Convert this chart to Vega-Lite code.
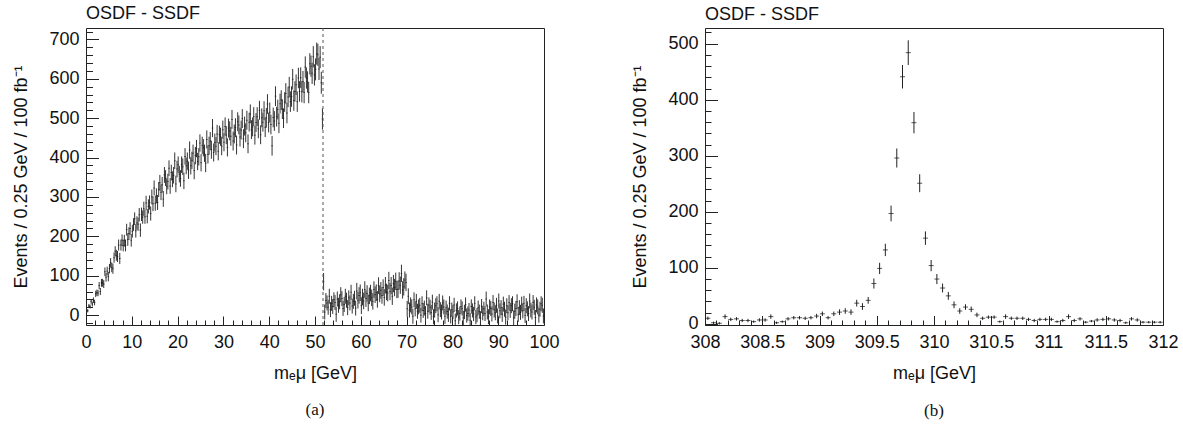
{
"$schema": "https://vega.github.io/schema/vega-lite/v6.json",
"background": "white",
"padding": {"left": 12, "top": 5, "right": 5, "bottom": 5},
"config": {
  "view": {"stroke": "#222", "strokeWidth": 1},
  "font": "Liberation Sans",
  "axis": {"labelFont": "Liberation Sans", "labelFontSize": 18, "labelColor": "#111", "titleFont": "Liberation Sans", "titleFontSize": 18, "titleFontWeight": "normal", "titleColor": "#111", "domain": false, "grid": false, "tickColor": "#222", "tickWidth": 1, "labelOverlap": false, "labelFlush": false, "labelBound": false, "tickCount": 1000},
  "title": {"font": "Liberation Sans", "fontSize": 18, "fontWeight": "normal", "color": "#111", "anchor": "start", "frame": "group", "offset": -1}
},
"datasets": {
"a": [
{"x":0.125,"y":13,"e":4},{"x":0.375,"y":11,"e":4},{"x":0.625,"y":23,"e":5},{"x":0.875,"y":22,"e":5},
{"x":1.125,"y":35,"e":6},{"x":1.375,"y":28,"e":6},{"x":1.625,"y":38,"e":7},{"x":1.875,"y":32,"e":7},
{"x":2.125,"y":54,"e":8},{"x":2.375,"y":57,"e":8},{"x":2.625,"y":56,"e":8},{"x":2.875,"y":75,"e":9},
{"x":3.125,"y":60,"e":9},{"x":3.375,"y":82,"e":10},{"x":3.625,"y":82,"e":10},{"x":3.875,"y":79,"e":10},
{"x":4.125,"y":110,"e":11},{"x":4.375,"y":96,"e":11},{"x":4.625,"y":112,"e":11},{"x":4.875,"y":98,"e":12},
{"x":5.125,"y":118,"e":12},{"x":5.375,"y":133,"e":12},{"x":5.625,"y":121,"e":12},{"x":5.875,"y":118,"e":13},
{"x":6.125,"y":146,"e":13},{"x":6.375,"y":162,"e":13},{"x":6.625,"y":152,"e":14},{"x":6.875,"y":149,"e":14},
{"x":7.125,"y":178,"e":14},{"x":7.375,"y":144,"e":14},{"x":7.625,"y":178,"e":14},{"x":7.875,"y":190,"e":15},
{"x":8.125,"y":177,"e":15},{"x":8.375,"y":189,"e":15},{"x":8.625,"y":177,"e":15},{"x":8.875,"y":217,"e":15},
{"x":9.125,"y":192,"e":16},{"x":9.375,"y":207,"e":16},{"x":9.625,"y":220,"e":16},{"x":9.875,"y":190,"e":16},
{"x":10.125,"y":213,"e":16},{"x":10.375,"y":230,"e":16},{"x":10.625,"y":245,"e":16},{"x":10.875,"y":214,"e":17},
{"x":11.125,"y":234,"e":17},{"x":11.375,"y":231,"e":17},{"x":11.625,"y":255,"e":17},{"x":11.875,"y":216,"e":17},
{"x":12.125,"y":256,"e":17},{"x":12.375,"y":249,"e":17},{"x":12.625,"y":270,"e":18},{"x":12.875,"y":250,"e":18},
{"x":13.125,"y":285,"e":18},{"x":13.375,"y":251,"e":18},{"x":13.625,"y":276,"e":18},{"x":13.875,"y":286,"e":18},
{"x":14.125,"y":258,"e":18},{"x":14.375,"y":300,"e":19},{"x":14.625,"y":283,"e":19},{"x":14.875,"y":323,"e":19},
{"x":15.125,"y":284,"e":19},{"x":15.375,"y":303,"e":19},{"x":15.625,"y":286,"e":19},{"x":15.875,"y":319,"e":19},
{"x":16.125,"y":336,"e":20},{"x":16.375,"y":312,"e":20},{"x":16.625,"y":331,"e":20},{"x":16.875,"y":295,"e":20},
{"x":17.125,"y":356,"e":20},{"x":17.375,"y":348,"e":20},{"x":17.625,"y":327,"e":20},{"x":17.875,"y":339,"e":20},
{"x":18.125,"y":373,"e":20},{"x":18.375,"y":328,"e":20},{"x":18.625,"y":362,"e":20},{"x":18.875,"y":345,"e":20},
{"x":19.125,"y":355,"e":21},{"x":19.375,"y":392,"e":21},{"x":19.625,"y":333,"e":21},{"x":19.875,"y":371,"e":21},
{"x":20.125,"y":382,"e":21},{"x":20.375,"y":358,"e":21},{"x":20.625,"y":347,"e":21},{"x":20.875,"y":382,"e":21},
{"x":21.125,"y":377,"e":21},{"x":21.375,"y":341,"e":21},{"x":21.625,"y":403,"e":21},{"x":21.875,"y":379,"e":21},
{"x":22.125,"y":391,"e":22},{"x":22.375,"y":368,"e":22},{"x":22.625,"y":419,"e":22},{"x":22.875,"y":379,"e":22},
{"x":23.125,"y":393,"e":22},{"x":23.375,"y":411,"e":22},{"x":23.625,"y":367,"e":22},{"x":23.875,"y":405,"e":22},
{"x":24.125,"y":423,"e":22},{"x":24.375,"y":390,"e":22},{"x":24.625,"y":402,"e":22},{"x":24.875,"y":437,"e":22},
{"x":25.125,"y":387,"e":22},{"x":25.375,"y":431,"e":22},{"x":25.625,"y":425,"e":22},{"x":25.875,"y":411,"e":22},
{"x":26.125,"y":386,"e":23},{"x":26.375,"y":446,"e":23},{"x":26.625,"y":408,"e":23},{"x":26.875,"y":430,"e":23},
{"x":27.125,"y":442,"e":23},{"x":27.375,"y":420,"e":23},{"x":27.625,"y":475,"e":23},{"x":27.875,"y":413,"e":23},
{"x":28.125,"y":438,"e":23},{"x":28.375,"y":429,"e":23},{"x":28.625,"y":460,"e":23},{"x":28.875,"y":416,"e":23},
{"x":29.125,"y":458,"e":23},{"x":29.375,"y":453,"e":23},{"x":29.625,"y":429,"e":23},{"x":29.875,"y":471,"e":23},
{"x":30.125,"y":439,"e":23},{"x":30.375,"y":479,"e":23},{"x":30.625,"y":457,"e":23},{"x":30.875,"y":426,"e":23},
{"x":31.125,"y":475,"e":24},{"x":31.375,"y":468,"e":24},{"x":31.625,"y":454,"e":24},{"x":31.875,"y":497,"e":24},
{"x":32.125,"y":442,"e":24},{"x":32.375,"y":460,"e":24},{"x":32.625,"y":476,"e":24},{"x":32.875,"y":432,"e":24},
{"x":33.125,"y":491,"e":24},{"x":33.375,"y":483,"e":24},{"x":33.625,"y":452,"e":24},{"x":33.875,"y":470,"e":24},
{"x":34.125,"y":499,"e":24},{"x":34.375,"y":448,"e":24},{"x":34.625,"y":480,"e":24},{"x":34.875,"y":463,"e":24},
{"x":35.125,"y":495,"e":24},{"x":35.375,"y":435,"e":24},{"x":35.625,"y":490,"e":24},{"x":35.875,"y":511,"e":24},
{"x":36.125,"y":471,"e":24},{"x":36.375,"y":478,"e":24},{"x":36.625,"y":504,"e":24},{"x":36.875,"y":457,"e":24},
{"x":37.125,"y":489,"e":24},{"x":37.375,"y":504,"e":24},{"x":37.625,"y":473,"e":24},{"x":37.875,"y":520,"e":24},
{"x":38.125,"y":458,"e":24},{"x":38.375,"y":501,"e":24},{"x":38.625,"y":490,"e":24},{"x":38.875,"y":519,"e":24},
{"x":39.125,"y":477,"e":25},{"x":39.375,"y":501,"e":25},{"x":39.625,"y":536,"e":25},{"x":39.875,"y":489,"e":25},
{"x":40.125,"y":515,"e":25},{"x":40.375,"y":484,"e":25},{"x":40.625,"y":430,"e":25},{"x":40.875,"y":502,"e":25},
{"x":41.125,"y":493,"e":25},{"x":41.375,"y":556,"e":25},{"x":41.625,"y":504,"e":25},{"x":41.875,"y":522,"e":25},
{"x":42.125,"y":487,"e":25},{"x":42.375,"y":537,"e":25},{"x":42.625,"y":546,"e":25},{"x":42.875,"y":523,"e":25},
{"x":43.125,"y":500,"e":25},{"x":43.375,"y":541,"e":25},{"x":43.625,"y":563,"e":26},{"x":43.875,"y":513,"e":26},
{"x":44.125,"y":554,"e":26},{"x":44.375,"y":579,"e":26},{"x":44.625,"y":542,"e":26},{"x":44.875,"y":555,"e":26},
{"x":45.125,"y":599,"e":26},{"x":45.375,"y":545,"e":26},{"x":45.625,"y":568,"e":26},{"x":45.875,"y":585,"e":26},
{"x":46.125,"y":542,"e":26},{"x":46.375,"y":602,"e":26},{"x":46.625,"y":568,"e":26},{"x":46.875,"y":603,"e":26},
{"x":47.125,"y":567,"e":27},{"x":47.375,"y":593,"e":27},{"x":47.625,"y":565,"e":27},{"x":47.875,"y":630,"e":27},
{"x":48.125,"y":602,"e":27},{"x":48.375,"y":592,"e":27},{"x":48.625,"y":565,"e":27},{"x":48.875,"y":638,"e":27},
{"x":49.125,"y":632,"e":27},{"x":49.375,"y":614,"e":27},{"x":49.625,"y":656,"e":27},{"x":49.875,"y":610,"e":27},
{"x":50.125,"y":624,"e":28},{"x":50.375,"y":664,"e":28},{"x":50.625,"y":661,"e":28},{"x":50.875,"y":625,"e":28},
{"x":51.125,"y":655,"e":28},{"x":51.375,"y":590,"e":28},{"x":51.625,"y":498,"e":27},{"x":51.875,"y":85,"e":22},
{"x":52.125,"y":8,"e":19},{"x":52.375,"y":37,"e":19},{"x":52.625,"y":31,"e":19},{"x":52.875,"y":20,"e":19},
{"x":53.125,"y":48,"e":19},{"x":53.375,"y":14,"e":19},{"x":53.625,"y":30,"e":19},{"x":53.875,"y":22,"e":19},
{"x":54.125,"y":39,"e":19},{"x":54.375,"y":32,"e":19},{"x":54.625,"y":2,"e":19},{"x":54.875,"y":41,"e":19},
{"x":55.125,"y":25,"e":19},{"x":55.375,"y":34,"e":19},{"x":55.625,"y":52,"e":19},{"x":55.875,"y":42,"e":19},
{"x":56.125,"y":17,"e":19},{"x":56.375,"y":27,"e":19},{"x":56.625,"y":48,"e":19},{"x":56.875,"y":38,"e":19},
{"x":57.125,"y":19,"e":19},{"x":57.375,"y":44,"e":19},{"x":57.625,"y":31,"e":19},{"x":57.875,"y":58,"e":19},
{"x":58.125,"y":23,"e":19},{"x":58.375,"y":35,"e":19},{"x":58.625,"y":43,"e":19},{"x":58.875,"y":18,"e":19},
{"x":59.125,"y":61,"e":21},{"x":59.375,"y":38,"e":21},{"x":59.625,"y":50,"e":21},{"x":59.875,"y":57,"e":21},
{"x":60.125,"y":24,"e":21},{"x":60.375,"y":46,"e":21},{"x":60.625,"y":36,"e":21},{"x":60.875,"y":65,"e":21},
{"x":61.125,"y":42,"e":21},{"x":61.375,"y":55,"e":21},{"x":61.625,"y":31,"e":21},{"x":61.875,"y":49,"e":21},
{"x":62.125,"y":56,"e":21},{"x":62.375,"y":44,"e":21},{"x":62.625,"y":35,"e":21},{"x":62.875,"y":65,"e":21},
{"x":63.125,"y":52,"e":21},{"x":63.375,"y":57,"e":21},{"x":63.625,"y":40,"e":21},{"x":63.875,"y":75,"e":21},
{"x":64.125,"y":54,"e":21},{"x":64.375,"y":63,"e":21},{"x":64.625,"y":50,"e":21},{"x":64.875,"y":70,"e":21},
{"x":65.125,"y":45,"e":21},{"x":65.375,"y":76,"e":21},{"x":65.625,"y":59,"e":21},{"x":65.875,"y":56,"e":21},
{"x":66.125,"y":88,"e":22},{"x":66.375,"y":60,"e":22},{"x":66.625,"y":75,"e":22},{"x":66.875,"y":48,"e":22},
{"x":67.125,"y":80,"e":22},{"x":67.375,"y":70,"e":22},{"x":67.625,"y":86,"e":22},{"x":67.875,"y":65,"e":22},
{"x":68.125,"y":66,"e":22},{"x":68.375,"y":87,"e":22},{"x":68.625,"y":76,"e":22},{"x":68.875,"y":106,"e":22},
{"x":69.125,"y":64,"e":22},{"x":69.375,"y":72,"e":22},{"x":69.625,"y":89,"e":22},{"x":69.875,"y":83,"e":22},
{"x":70.125,"y":16,"e":20},{"x":70.375,"y":48,"e":20},{"x":70.625,"y":13,"e":19},{"x":70.875,"y":26,"e":19},
{"x":71.125,"y":21,"e":19},{"x":71.375,"y":-3,"e":19},{"x":71.625,"y":39,"e":19},{"x":71.875,"y":16,"e":19},
{"x":72.125,"y":35,"e":19},{"x":72.375,"y":10,"e":19},{"x":72.625,"y":21,"e":19},{"x":72.875,"y":25,"e":19},
{"x":73.125,"y":0,"e":19},{"x":73.375,"y":29,"e":19},{"x":73.625,"y":12,"e":19},{"x":73.875,"y":18,"e":19},
{"x":74.125,"y":4,"e":19},{"x":74.375,"y":44,"e":19},{"x":74.625,"y":10,"e":19},{"x":74.875,"y":26,"e":19},
{"x":75.125,"y":20,"e":19},{"x":75.375,"y":7,"e":19},{"x":75.625,"y":33,"e":19},{"x":75.875,"y":-4,"e":19},
{"x":76.125,"y":13,"e":19},{"x":76.375,"y":24,"e":19},{"x":76.625,"y":29,"e":19},{"x":76.875,"y":1,"e":19},
{"x":77.125,"y":35,"e":19},{"x":77.375,"y":14,"e":19},{"x":77.625,"y":8,"e":19},{"x":77.875,"y":31,"e":19},
{"x":78.125,"y":21,"e":19},{"x":78.375,"y":-3,"e":19},{"x":78.625,"y":19,"e":18},{"x":78.875,"y":9,"e":18},
{"x":79.125,"y":1,"e":18},{"x":79.375,"y":30,"e":18},{"x":79.625,"y":-3,"e":18},{"x":79.875,"y":14,"e":18},
{"x":80.125,"y":8,"e":18},{"x":80.375,"y":26,"e":18},{"x":80.625,"y":-14,"e":18},{"x":80.875,"y":12,"e":18},
{"x":81.125,"y":17,"e":18},{"x":81.375,"y":-5,"e":18},{"x":81.625,"y":4,"e":18},{"x":81.875,"y":22,"e":18},
{"x":82.125,"y":17,"e":18},{"x":82.375,"y":-7,"e":18},{"x":82.625,"y":8,"e":18},{"x":82.875,"y":27,"e":18},
{"x":83.125,"y":-1,"e":18},{"x":83.375,"y":4,"e":18},{"x":83.625,"y":13,"e":18},{"x":83.875,"y":-13,"e":18},
{"x":84.125,"y":22,"e":18},{"x":84.375,"y":12,"e":18},{"x":84.625,"y":3,"e":18},{"x":84.875,"y":30,"e":18},
{"x":85.125,"y":-5,"e":18},{"x":85.375,"y":0,"e":18},{"x":85.625,"y":19,"e":18},{"x":85.875,"y":9,"e":18},
{"x":86.125,"y":-8,"e":18},{"x":86.375,"y":23,"e":18},{"x":86.625,"y":5,"e":18},{"x":86.875,"y":16,"e":18},
{"x":87.125,"y":4,"e":19},{"x":87.375,"y":41,"e":19},{"x":87.625,"y":8,"e":19},{"x":87.875,"y":-4,"e":19},
{"x":88.125,"y":21,"e":19},{"x":88.375,"y":17,"e":19},{"x":88.625,"y":3,"e":19},{"x":88.875,"y":32,"e":19},
{"x":89.125,"y":13,"e":19},{"x":89.375,"y":6,"e":19},{"x":89.625,"y":25,"e":19},{"x":89.875,"y":-2,"e":19},
{"x":90.125,"y":36,"e":19},{"x":90.375,"y":11,"e":19},{"x":90.625,"y":19,"e":19},{"x":90.875,"y":2,"e":19},
{"x":91.125,"y":28,"e":19},{"x":91.375,"y":15,"e":19},{"x":91.625,"y":-5,"e":19},{"x":91.875,"y":24,"e":19},
{"x":92.125,"y":6,"e":19},{"x":92.375,"y":32,"e":19},{"x":92.625,"y":12,"e":19},{"x":92.875,"y":24,"e":19},
{"x":93.125,"y":29,"e":19},{"x":93.375,"y":-7,"e":19},{"x":93.625,"y":10,"e":19},{"x":93.875,"y":17,"e":19},
{"x":94.125,"y":34,"e":19},{"x":94.375,"y":2,"e":19},{"x":94.625,"y":19,"e":19},{"x":94.875,"y":7,"e":19},
{"x":95.125,"y":28,"e":19},{"x":95.375,"y":11,"e":19},{"x":95.625,"y":30,"e":19},{"x":95.875,"y":-1,"e":19},
{"x":96.125,"y":24,"e":19},{"x":96.375,"y":16,"e":19},{"x":96.625,"y":4,"e":19},{"x":96.875,"y":36,"e":19},
{"x":97.125,"y":13,"e":19},{"x":97.375,"y":8,"e":19},{"x":97.625,"y":32,"e":19},{"x":97.875,"y":20,"e":19},
{"x":98.125,"y":-6,"e":19},{"x":98.375,"y":26,"e":19},{"x":98.625,"y":21,"e":19},{"x":98.875,"y":0,"e":19},
{"x":99.125,"y":15,"e":19},{"x":99.375,"y":29,"e":19},{"x":99.625,"y":25,"e":19},{"x":99.875,"y":-2,"e":19}
],
"b": [
{"x":308.025,"y":10,"e":3},{"x":308.075,"y":2,"e":2},{"x":308.125,"y":1,"e":2},{"x":308.175,"y":13,"e":4},
{"x":308.225,"y":8,"e":3},{"x":308.275,"y":9,"e":3},{"x":308.325,"y":6,"e":3},{"x":308.375,"y":6,"e":3},
{"x":308.425,"y":4,"e":2},{"x":308.475,"y":7,"e":3},{"x":308.525,"y":7,"e":3},{"x":308.575,"y":13,"e":4},
{"x":308.625,"y":2,"e":2},{"x":308.675,"y":4,"e":2},{"x":308.725,"y":9,"e":3},{"x":308.775,"y":11,"e":3},
{"x":308.825,"y":11,"e":3},{"x":308.875,"y":10,"e":3},{"x":308.925,"y":11,"e":3},{"x":308.975,"y":14,"e":4},
{"x":309.025,"y":18,"e":4},{"x":309.075,"y":11,"e":3},{"x":309.125,"y":18,"e":4},{"x":309.175,"y":21,"e":5},
{"x":309.225,"y":23,"e":5},{"x":309.275,"y":21,"e":5},{"x":309.325,"y":37,"e":6},{"x":309.375,"y":31,"e":6},
{"x":309.425,"y":42,"e":6},{"x":309.475,"y":72,"e":9},{"x":309.525,"y":99,"e":10},{"x":309.575,"y":132,"e":11},
{"x":309.625,"y":197,"e":14},{"x":309.675,"y":296,"e":17},{"x":309.725,"y":441,"e":21},{"x":309.775,"y":484,"e":22},
{"x":309.825,"y":359,"e":19},{"x":309.875,"y":251,"e":16},{"x":309.925,"y":153,"e":12},{"x":309.975,"y":104,"e":10},
{"x":310.025,"y":80,"e":9},{"x":310.075,"y":64,"e":8},{"x":310.125,"y":50,"e":7},{"x":310.175,"y":34,"e":6},
{"x":310.225,"y":23,"e":5},{"x":310.275,"y":30,"e":5},{"x":310.325,"y":26,"e":5},{"x":310.375,"y":16,"e":4},
{"x":310.425,"y":10,"e":3},{"x":310.475,"y":12,"e":3},{"x":310.525,"y":12,"e":3},{"x":310.575,"y":4,"e":2},
{"x":310.625,"y":13,"e":4},{"x":310.675,"y":10,"e":3},{"x":310.725,"y":10,"e":3},{"x":310.775,"y":10,"e":3},
{"x":310.825,"y":8,"e":3},{"x":310.875,"y":6,"e":3},{"x":310.925,"y":8,"e":3},{"x":310.975,"y":8,"e":3},
{"x":311.025,"y":8,"e":3},{"x":311.075,"y":4,"e":2},{"x":311.125,"y":6,"e":3},{"x":311.175,"y":13,"e":4},
{"x":311.225,"y":6,"e":3},{"x":311.275,"y":9,"e":3},{"x":311.325,"y":3,"e":2},{"x":311.375,"y":5,"e":2},
{"x":311.425,"y":7,"e":3},{"x":311.475,"y":8,"e":3},{"x":311.525,"y":9,"e":3},{"x":311.575,"y":7,"e":3},
{"x":311.625,"y":6,"e":3},{"x":311.675,"y":2,"e":2},{"x":311.725,"y":9,"e":3},{"x":311.775,"y":7,"e":3},
{"x":311.825,"y":3,"e":2},{"x":311.875,"y":3,"e":2},{"x":311.925,"y":3,"e":2},{"x":311.975,"y":3,"e":2}
],
"edge": [{"x": 51.75}]
},
"spacing": 71,
"hconcat": [
{
  "title": "OSDF - SSDF",
  "vconcat": [{
    "title": {"text": "(a)", "orient": "bottom", "anchor": "middle", "font": "Liberation Serif", "fontSize": 17, "offset": 20},
    "width": 458, "height": 297,
    "layer": [
      {"data": {"name": "a"},
       "mark": {"type": "errorbar", "ticks": false, "color": "#333", "thickness": 1, "clip": true},
       "encoding": {
         "x": {"field": "x", "type": "quantitative", "title": "mₑμ [GeV]",
               "scale": {"domain": [0, 100], "nice": false, "zero": false},
               "axis": {"values": [0,2,4,6,8,10,12,14,16,18,20,22,24,26,28,30,32,34,36,38,40,42,44,46,48,50,52,54,56,58,60,62,64,66,68,70,72,74,76,78,80,82,84,86,88,90,92,94,96,98,100],
                        "labelExpr": "datum.value % 10 === 0 ? format(datum.value, '') : ''",
                        "tickSize": {"condition": {"test": "datum.value % 10 === 0", "value": -9}, "value": -5},
                        "labelPadding": 17, "titlePadding": 9}},
         "y": {"field": "y", "type": "quantitative", "title": "Events / 0.25 GeV / 100 fb⁻¹",
               "scale": {"domain": [-25, 729], "nice": false, "zero": false},
               "axis": {"values": [-20,0,20,40,60,80,100,120,140,160,180,200,220,240,260,280,300,320,340,360,380,400,420,440,460,480,500,520,540,560,580,600,620,640,660,680,700,720],
                        "labelExpr": "datum.value % 100 === 0 ? format(datum.value, '') : ''",
                        "tickSize": {"condition": {"test": "datum.value % 100 === 0", "value": -12.5}, "value": -6.5},
                        "labelPadding": 19.5, "titlePadding": 18}},
         "yError": {"field": "e"}
       }},
      {"data": {"name": "a"},
       "mark": {"type": "tick", "orient": "horizontal", "size": 1.5, "thickness": 1, "color": "#111", "clip": true},
       "encoding": {"x": {"field": "x", "type": "quantitative"}, "y": {"field": "y", "type": "quantitative"}}},
      {"data": {"name": "edge"},
       "mark": {"type": "rule", "strokeDash": [3, 3], "color": "#555", "strokeWidth": 1},
       "encoding": {"x": {"field": "x", "type": "quantitative"}}}
    ]
  }]
},
{
  "title": "OSDF - SSDF",
  "vconcat": [{
    "title": {"text": "(b)", "orient": "bottom", "anchor": "middle", "font": "Liberation Serif", "fontSize": 17, "offset": 20},
    "width": 458, "height": 297,
    "layer": [
      {"data": {"name": "b"},
       "mark": {"type": "errorbar", "ticks": false, "color": "#222", "thickness": 1, "clip": true},
       "encoding": {
         "x": {"field": "x", "type": "quantitative", "title": "mₑμ [GeV]",
               "scale": {"domain": [308, 312], "nice": false, "zero": false},
               "axis": {"values": [308,308.1,308.2,308.3,308.4,308.5,308.6,308.7,308.8,308.9,309,309.1,309.2,309.3,309.4,309.5,309.6,309.7,309.8,309.9,310,310.1,310.2,310.3,310.4,310.5,310.6,310.7,310.8,310.9,311,311.1,311.2,311.3,311.4,311.5,311.6,311.7,311.8,311.9,312],
                        "labelExpr": "datum.value % 0.5 === 0 ? format(datum.value, '') : ''",
                        "tickSize": {"condition": {"test": "datum.value % 0.5 === 0", "value": -9.5}, "value": -5},
                        "labelPadding": 17.5, "titlePadding": 9}},
         "y": {"field": "y", "type": "quantitative", "title": "Events / 0.25 GeV / 100 fb⁻¹",
               "scale": {"domain": [-2, 528], "nice": false, "zero": false},
               "axis": {"values": [0,20,40,60,80,100,120,140,160,180,200,220,240,260,280,300,320,340,360,380,400,420,440,460,480,500,520],
                        "labelExpr": "datum.value % 100 === 0 ? format(datum.value, '') : ''",
                        "tickSize": {"condition": {"test": "datum.value % 100 === 0", "value": -12.5}, "value": -6},
                        "labelPadding": 19.5, "titlePadding": 18}},
         "yError": {"field": "e"}
       }},
      {"data": {"name": "b"},
       "mark": {"type": "tick", "orient": "horizontal", "size": 5, "thickness": 1, "color": "#111", "clip": true},
       "encoding": {"x": {"field": "x", "type": "quantitative"}, "y": {"field": "y", "type": "quantitative"}}}
    ]
  }]
}
]
}
